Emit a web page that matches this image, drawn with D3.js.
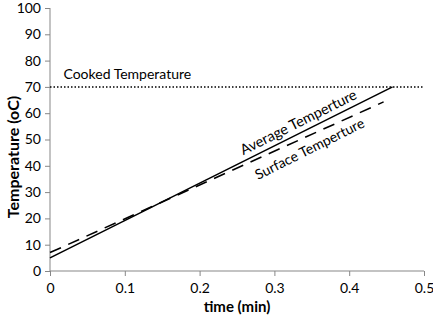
<!DOCTYPE html>
<html>
<head>
<meta charset="utf-8">
<script src="https://cdn.jsdelivr.net/npm/d3@7"></script>
<style>
  body { margin: 0; background: #fff; }
  text { font-family: Lato, "Open Sans", sans-serif; }
</style>
</head>
<body>
<div id="chart"></div>
<script>
// values
const avgTime = [0, 0.458];
const avgTemp = [5, 70];
const surfTime = [0, 0.446];
const surfTemp = [7, 64.3];
const cookedTemp = 70;
const xTicks = [0, 0.1, 0.2, 0.3, 0.4, 0.5];
const yTicks = [0, 10, 20, 30, 40, 50, 60, 70, 80, 90, 100];

let width = 433, height = 317;
let margin = { top: 8, right: 9, bottom: 46, left: 50 };
let w = width - margin.left - margin.right;
let h = height - margin.top - margin.bottom;

let svg = d3.select("#chart").append("svg")
    .attr("width", width)
    .attr("height", height);

let g = svg.append("g")
    .attr("transform", "translate(" + margin.left + "," + margin.top + ")");

let x = d3.scaleLinear().domain([0, 0.5]).range([0, w]);
let y = d3.scaleLinear().domain([0, 100]).range([h, 0]);

// axes
let xAxis = g.append("g")
    .attr("transform", "translate(0," + h + ")")
    .call(d3.axisBottom(x).tickValues(xTicks).tickSize(5).tickPadding(7)
        .tickFormat(d => d === 0 ? "0" : d3.format(".1f")(d)));
let yAxis = g.append("g")
    .call(d3.axisLeft(y).tickValues(yTicks).tickSize(5).tickPadding(4));

[xAxis, yAxis].forEach(a => {
    a.select(".domain").attr("stroke", "#878787");
    a.selectAll(".tick line").attr("stroke", "#878787");
    a.selectAll(".tick text")
        .attr("fill", "#000")
        .style("font-size", "14px")
        .style("font-family", "Lato, 'Open Sans', sans-serif");
});
xAxis.select(".domain").attr("d", "M0,0H" + w);
yAxis.select(".domain").attr("d", "M0," + h + "V0");

// cooked temperature line
g.append("line")
    .attr("x1", x(0)).attr("x2", x(0.5))
    .attr("y1", y(cookedTemp)).attr("y2", y(cookedTemp))
    .attr("stroke", "#000")
    .attr("stroke-width", 1.5)
    .attr("stroke-dasharray", "1.5,2");

let line = d3.line().x(d => x(d[0])).y(d => y(d[1]));

g.append("path")
    .datum(surfTime.map((t, i) => [t, surfTemp[i]]))
    .attr("d", line)
    .attr("fill", "none")
    .attr("stroke", "#000")
    .attr("stroke-width", 1.6)
    .attr("stroke-dasharray", "12,8");

g.append("path")
    .datum(avgTime.map((t, i) => [t, avgTemp[i]]))
    .attr("d", line)
    .attr("fill", "none")
    .attr("stroke", "#000")
    .attr("stroke-width", 1.6);

// labels
g.append("text")
    .attr("x", x(0.018)).attr("y", y(cookedTemp) - 8)
    .style("font-size", "14px")
    .text("Cooked Temperature");

let angle = -Math.atan((y(0) - y(65)) / (x(0.458) - x(0))) * 180 / Math.PI;

g.append("text")
    .attr("transform", "translate(" + x(0.335) + "," + (y(52.6) - 6) + ") rotate(" + angle + ")")
    .attr("text-anchor", "middle")
    .style("font-size", "14.5px")
    .text("Average Temperture");

g.append("text")
    .attr("transform", "translate(" + x(0.35) + "," + (y(52) + 19) + ") rotate(" + angle + ")")
    .attr("text-anchor", "middle")
    .style("font-size", "14px")
    .text("Surface Temperture");

// axis titles
svg.append("text")
    .attr("x", margin.left + x(0.25)).attr("y", 312)
    .attr("text-anchor", "middle")
    .style("font-size", "15px").style("font-weight", "bold")
    .text("time (min)");

svg.append("text")
    .attr("transform", "translate(19,157) rotate(-90)")
    .attr("text-anchor", "middle")
    .style("font-size", "16px").style("font-weight", "bold")
    .text("Temperature (oC)");
</script>
</body>
</html>
